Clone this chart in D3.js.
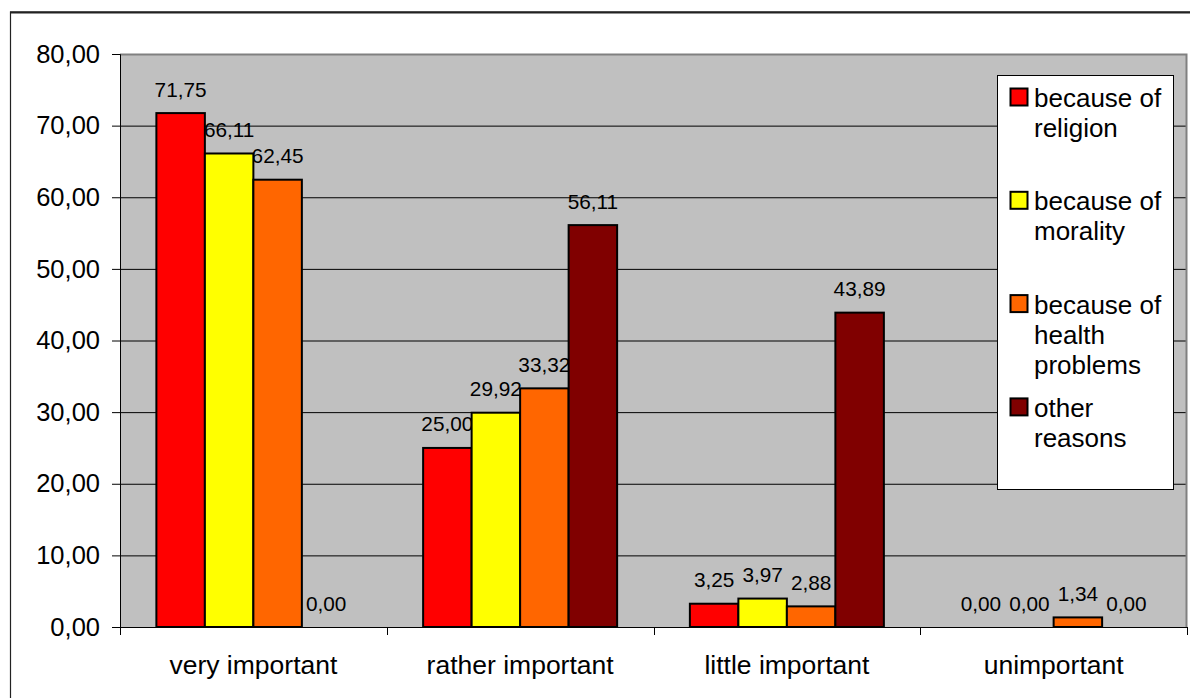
<!DOCTYPE html>
<html>
<head>
<meta charset="utf-8">
<script src="https://cdn.jsdelivr.net/npm/d3@7"></script>
<style>
  body { margin: 0; background: #fff; }
  text { font-family: Arial, "Liberation Sans", sans-serif; fill: #000; }
</style>
</head>
<body>
<div id="chart-area"></div>
<script>
// chart data
var categories = ["very important", "rather important", "little important", "unimportant"];
var seriesNames = ["because of religion", "because of morality", "because of health problems", "other reasons"];
var legendLines = [["because of", "religion"], ["because of", "morality"], ["because of", "health", "problems"], ["other", "reasons"]];
var religion = [71.75, 25.00, 3.25, 0.00];
var morality = [66.11, 29.92, 3.97, 0.00];
var health   = [62.45, 33.32, 2.88, 1.34];
var other    = [0.00, 56.11, 43.89, 0.00];
var yTicks = [0, 10, 20, 30, 40, 50, 60, 70, 80];
var colors = ["#FF0000", "#FFFF00", "#FF6600", "#800000"];

var allSeries = [religion, morality, health, other];

var W = 1190, H = 698;
var margin = { left: 120, top: 54, right: 3, bottom: 71 };
var width = W - margin.left - margin.right;
var height = H - margin.top - margin.bottom;

var svg = d3.select("#chart-area")
    .append("svg")
    .attr("width", W)
    .attr("height", H);

// outer frame (runs off the page right and bottom)
svg.append("rect")
    .attr("x", 10.5).attr("y", 12)
    .attr("width", W + 20).attr("height", H + 20)
    .attr("fill", "none")
    .attr("stroke", "#222")
    .attr("stroke-width", 1.2);
svg.append("line")
    .attr("x1", 10).attr("x2", W).attr("y1", 12.5).attr("y2", 12.5)
    .attr("stroke", "#222").attr("stroke-width", 2);

var g = svg.append("g")
    .attr("transform", "translate(" + margin.left + ", " + margin.top + ")");

// scales
var x0 = d3.scaleBand()
    .domain(categories)
    .range([0, width])
    .padding(0);

var x1 = d3.scaleBand()
    .domain(d3.range(seriesNames.length))
    .range([0, x0.bandwidth()])
    .paddingInner(0)
    .paddingOuter(0.75);

var y = d3.scaleLinear()
    .domain([0, 80])
    .range([height, 0]);

function fmt(v) { return d3.format(".2f")(v).replace(".", ","); }

// plot background
g.append("rect")
    .attr("width", width).attr("height", height)
    .attr("fill", "#C0C0C0");

// gridlines
g.append("g")
    .attr("class", "grid")
    .call(d3.axisLeft(y).tickValues(yTicks.slice(1)).tickSize(-width).tickFormat(""))
    .call(function(s) { s.select(".domain").remove(); })
    .selectAll("line")
    .attr("stroke", "#000")
    .attr("stroke-width", 1);

// plot border top / right
g.append("path")
    .attr("d", "M0,0.5H" + (width - 0.5) + "V" + height)
    .attr("fill", "none")
    .attr("stroke", "#808080")
    .attr("stroke-width", 2);

// flatten for bars
var bars = [];
allSeries.forEach(function(vals, s) {
    vals.forEach(function(v, c) {
        bars.push({ s: s, cat: categories[c], value: v });
    });
});

// labels first, the bars are drawn over them
g.selectAll(".lbl")
    .data(bars)
    .enter().append("text")
    .attr("class", "lbl")
    .attr("x", function(d) { return x0(d.cat) + x1(d.s) + x1.bandwidth() / 2; })
    .attr("y", function(d) { return y(d.value) - 16.5; })
    .attr("text-anchor", "middle")
    .attr("font-size", "20.8px")
    .text(function(d) { return fmt(d.value); });

g.selectAll(".bar")
    .data(bars.filter(function(d) { return d.value > 0; }))
    .enter().append("rect")
    .attr("class", "bar")
    .attr("x", function(d) { return x0(d.cat) + x1(d.s); })
    .attr("y", function(d) { return y(d.value); })
    .attr("width", x1.bandwidth())
    .attr("height", function(d) { return height - y(d.value); })
    .attr("fill", function(d) { return colors[d.s]; })
    .attr("stroke", "#000")
    .attr("stroke-width", 2);

// y axis
var yAxisGroup = g.append("g")
    .call(d3.axisLeft(y).tickValues(yTicks).tickSize(8).tickPadding(12).tickFormat(fmt));
yAxisGroup.select(".domain").attr("stroke", "#000").attr("d", "M-8,0.5H0.5V" + height);
yAxisGroup.selectAll(".tick line").attr("stroke", "#000");
yAxisGroup.selectAll(".tick text")
    .attr("font-size", "25.5px")
    .attr("font-family", "Arial, 'Liberation Sans', sans-serif")
    .attr("fill", "#000");

// x axis: labels centred, ticks on band edges
var xAxisGroup = g.append("g")
    .attr("transform", "translate(0, " + height + ")")
    .call(d3.axisBottom(x0).tickSize(0).tickPadding(28));
xAxisGroup.select(".domain").attr("stroke", "#000").attr("d", "M0,0.5H" + width);
xAxisGroup.selectAll(".tick text")
    .attr("font-size", "26.5px")
    .attr("font-family", "Arial, 'Liberation Sans', sans-serif")
    .attr("fill", "#000");

var edges = categories.map(function(c) { return x0(c); }).concat([width]);
xAxisGroup.selectAll(".edge")
    .data(edges)
    .enter().append("line")
    .attr("class", "edge")
    .attr("x1", function(d) { return Math.round(d) + 0.5; })
    .attr("x2", function(d) { return Math.round(d) + 0.5; })
    .attr("y1", 0).attr("y2", 8)
    .attr("stroke", "#000");

// legend
var legend = svg.append("g")
    .attr("transform", "translate(997, 75)");

legend.append("rect")
    .attr("x", 0.5).attr("y", 0.5)
    .attr("width", 176).attr("height", 414)
    .attr("fill", "#fff")
    .attr("stroke", "#000")
    .attr("stroke-width", 1);

var entry = legend.selectAll(".entry")
    .data(seriesNames)
    .enter().append("g")
    .attr("class", "entry")
    .attr("transform", function(d, i) { return "translate(0, " + (32 + i * 103.3) + ")"; });

entry.append("rect")
    .attr("x", 13.5).attr("y", -18.5)
    .attr("width", 17).attr("height", 17)
    .attr("fill", function(d, i) { return colors[i]; })
    .attr("stroke", "#000")
    .attr("stroke-width", 2);

entry.append("text")
    .attr("font-size", "26px")
    .selectAll("tspan")
    .data(function(d, i) { return legendLines[i]; })
    .enter().append("tspan")
    .attr("x", 37)
    .attr("y", function(d, j) { return j * 30; })
    .text(function(d) { return d; });
</script>
</body>
</html>
